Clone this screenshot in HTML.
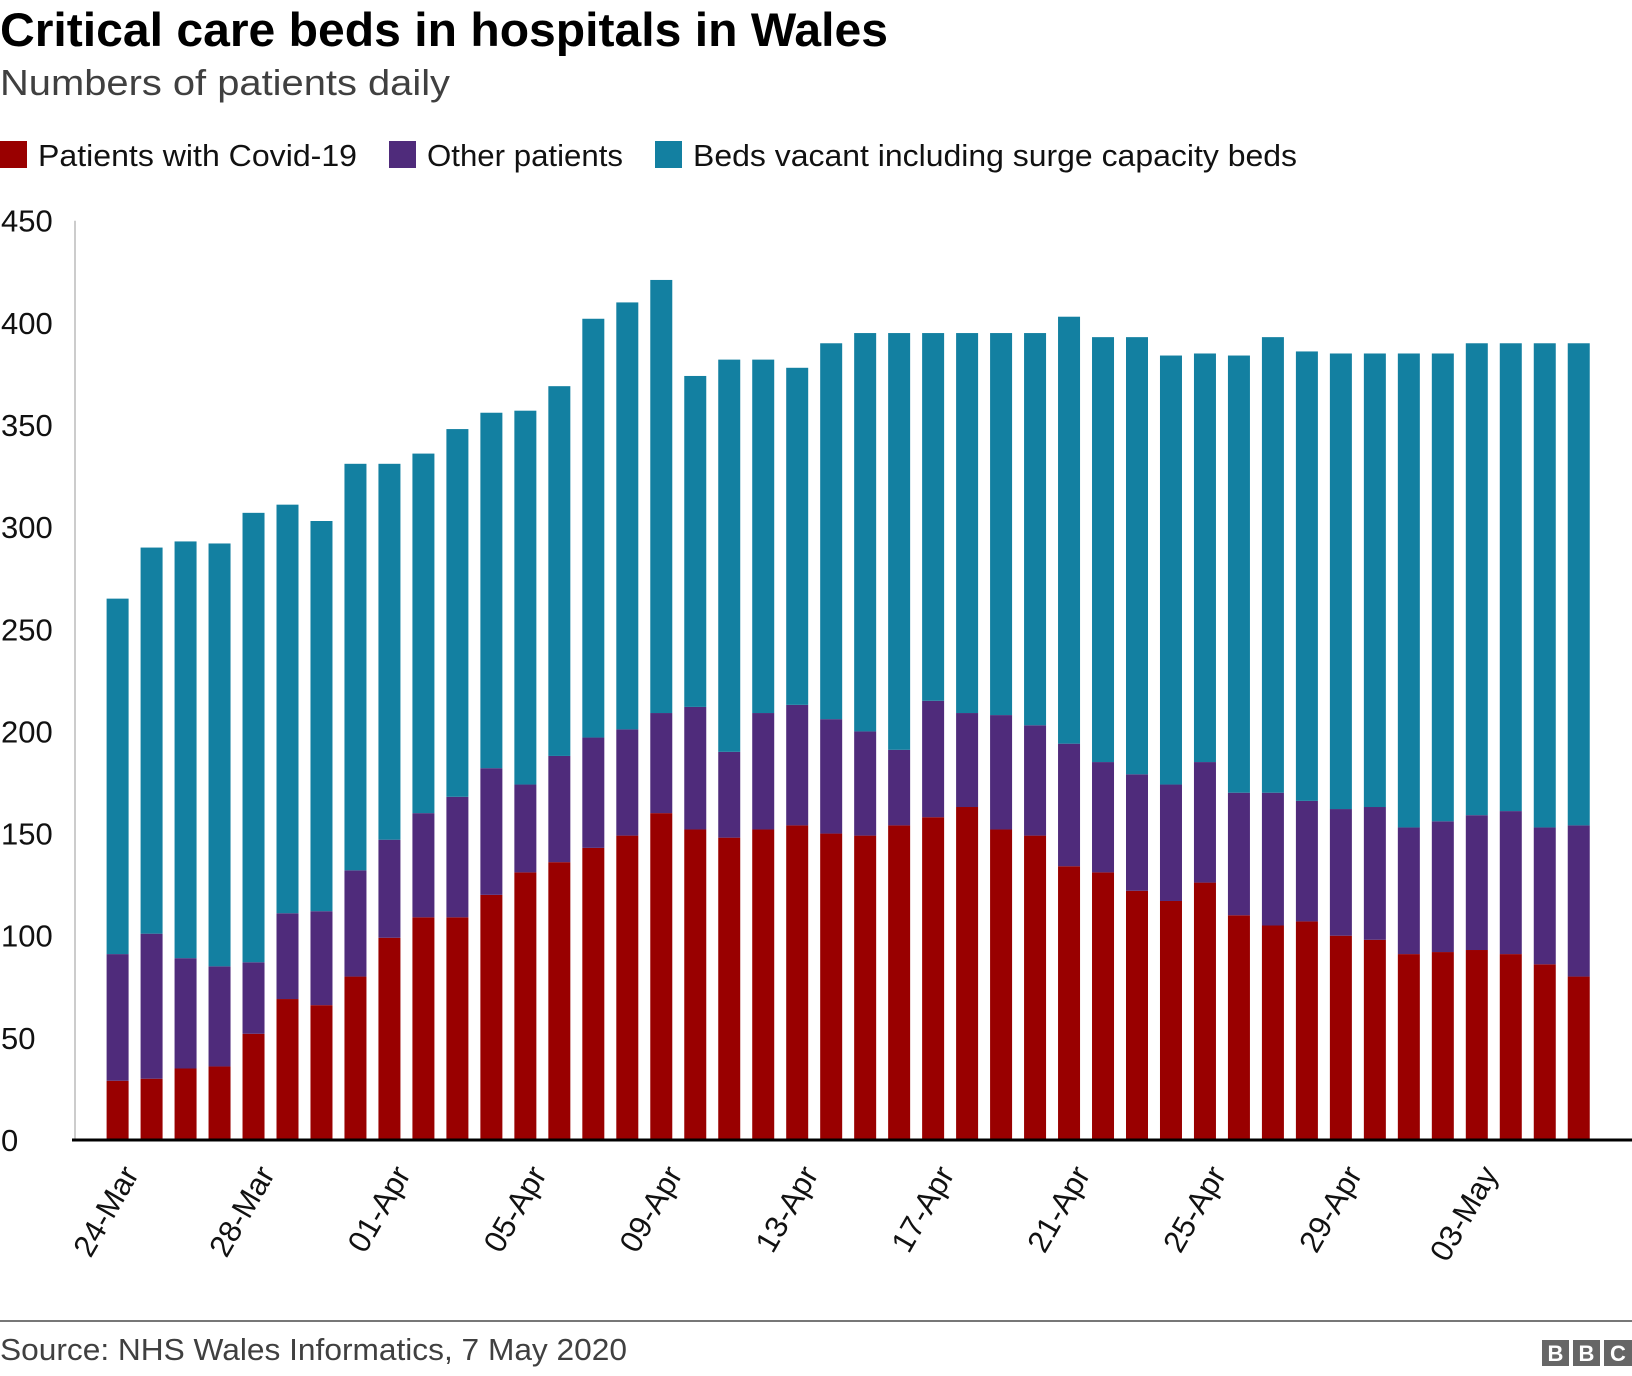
<!DOCTYPE html>
<html><head><meta charset="utf-8"><style>
body{margin:0;background:#fff;font-family:"Liberation Sans",Arial,sans-serif}
svg{display:block}
</style></head><body>
<svg id="chart" width="1632" height="1376" xmlns="http://www.w3.org/2000/svg" font-family="Liberation Sans, Arial, sans-serif">
<text x="0" y="46" font-size="47" font-weight="bold" fill="#000" textLength="888" lengthAdjust="spacingAndGlyphs">Critical care beds in hospitals in Wales</text>
<text x="0" y="95" font-size="36" fill="#404040" textLength="450" lengthAdjust="spacingAndGlyphs">Numbers of patients daily</text>
<g font-size="31" fill="#111">
<rect x="0" y="141" width="27" height="27" fill="#990000"/>
<text x="38" y="166" textLength="319" lengthAdjust="spacingAndGlyphs">Patients with Covid-19</text>
<rect x="389" y="141" width="27" height="27" fill="#4f2b7b"/>
<text x="427" y="166" textLength="196" lengthAdjust="spacingAndGlyphs">Other patients</text>
<rect x="655" y="141" width="27" height="27" fill="#1380a1"/>
<text x="693" y="166" textLength="604" lengthAdjust="spacingAndGlyphs">Beds vacant including surge capacity beds</text>
</g>
<g id="plot"></g>
<line x1="0" y1="1321" x2="1632" y2="1321" stroke="#777" stroke-width="2"/>
<text x="0" y="1360" font-size="31" fill="#404040" textLength="627" lengthAdjust="spacingAndGlyphs">Source: NHS Wales Informatics, 7 May 2020</text>
<g font-size="22" font-weight="bold" fill="#fff" text-anchor="middle">
<rect x="1542" y="1340" width="27" height="26" fill="#666"/><text x="1555.5" y="1361">B</text>
<rect x="1573" y="1340" width="27" height="26" fill="#666"/><text x="1586.5" y="1361">B</text>
<rect x="1604" y="1340" width="28" height="26" fill="#666"/><text x="1618" y="1361">C</text>
</g>
</svg>
<script>
const dates=["24-Mar","25-Mar","26-Mar","27-Mar","28-Mar","29-Mar","30-Mar","31-Mar","01-Apr","02-Apr","03-Apr","04-Apr","05-Apr","06-Apr","07-Apr","08-Apr","09-Apr","10-Apr","11-Apr","12-Apr","13-Apr","14-Apr","15-Apr","16-Apr","17-Apr","18-Apr","19-Apr","20-Apr","21-Apr","22-Apr","23-Apr","24-Apr","25-Apr","26-Apr","27-Apr","28-Apr","29-Apr","30-Apr","01-May","02-May","03-May","04-May","05-May","06-May"];
const covid=[29,30,35,36,52,69,66,80,99,109,109,120,131,136,143,149,160,152,148,152,154,150,149,154,158,163,152,149,134,131,122,117,126,110,105,107,100,98,91,92,93,91,86,80];
const other=[62,71,54,49,35,42,46,52,48,51,59,62,43,52,54,52,49,60,42,57,59,56,51,37,57,46,56,54,60,54,57,57,59,60,65,59,62,65,62,64,66,70,67,74];
const vacant=[174,189,204,207,220,200,191,199,184,176,180,174,183,181,205,209,212,162,192,173,165,184,195,204,180,186,187,192,209,208,214,210,200,214,223,220,223,222,232,229,231,229,237,236];
const yTicks=[0,50,100,150,200,250,300,350,400,450];
const xLabelEvery=4;
const NS="http://www.w3.org/2000/svg";
const plot=document.getElementById('plot');
const y0=1140,yTop=220.7,yMax=450;
const y=v=>y0-(v/yMax)*(y0-yTop);
const x0=117.6,step=33.98,bw=22;
const x=i=>x0+i*step;
function mk(tag,attrs){const e=document.createElementNS(NS,tag);for(const k in attrs)e.setAttribute(k,attrs[k]);plot.appendChild(e);return e;}
const ax=mk('line',{x1:75,y1:y(450),x2:75,y2:y0,stroke:'#ccc','stroke-width':2});


yTicks.forEach(t=>{
  const e=mk('text',{x:1,y:y(t)+11,'font-size':31,fill:'#111'});
  e.textContent=t;
  
  
});
const series=[[covid,'#990000','covid'],[other,'#4f2b7b','other'],[vacant,'#1380a1','vacant']];
dates.forEach((d,i)=>{
  let base=0;
  series.forEach(([arr,col,nm])=>{
    const v=arr[i];
    const r=mk('rect',{x:x(i)-bw/2,y:y(base+v),width:bw,height:y(base)-y(base+v),fill:col});
    
    
    base+=v;
  });
  if(i%xLabelEvery===0){
    const tx=x(i)+22,ty=1174;
    const t=mk('text',{x:tx,y:ty,'font-size':31,fill:'#111','text-anchor':'end',transform:`rotate(-60 ${tx} ${ty})`});
    t.textContent=d;
    
    
  }
});
const bl=mk('line',{x1:72,y1:y0,x2:1632,y2:y0,stroke:'#000','stroke-width':3});


</script>
</body></html>
